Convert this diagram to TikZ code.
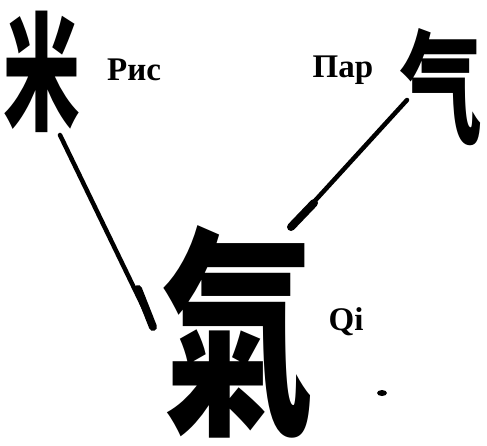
\documentclass[tikz,border=0pt]{standalone}
\usepackage{fontspec}
\setmainfont{Liberation Serif}
\newfontfamily\cjk{Noto Sans CJK SC}
\begin{document}
\begin{tikzpicture}[x=1pt,y=-1pt,
  glyph/.style={inner sep=0pt, font=\cjk\bfseries},
  label/.style={inner sep=0pt, font=\fontsize{33}{36}\selectfont\bfseries},
  brush/.style={line width=4.5pt, line cap=round, black},
  brushtip/.style={line width=8pt, line cap=round, black}]
\useasboundingbox (0,0) rectangle (487,445);
% characters
\node[glyph] (mi) at (42,72) {\fontsize{128}{130}\selectfont\scalebox{0.6}[1]{米}};
\node[glyph] (qisteam) at (441,87) {\fontsize{124}{130}\selectfont\scalebox{0.66}[1]{气}};
\node[glyph] (qibig) at (238,332) {\fontsize{225}{230}\selectfont\scalebox{0.68}[1]{氣}};
% labels
\node[label] (ris) at (134,70) {Рис};
\node[label] (par) at (343,70) {Пар};
\node[label] (qilab) at (346,322) {Qi};
% connector end points
\coordinate (a1) at (60,135);
\coordinate (a2) at (138,289);
\coordinate (a3) at (153,327);
\coordinate (b1) at (407,100);
\coordinate (b2) at (314,203);
\coordinate (b3) at (291,227);
\draw[brush] (a1) -- (a3);
\draw[brushtip] (a2) -- (a3);
\draw[brush] (b1) -- (b3);
\draw[brushtip] (b2) -- (b3);
% small speck
\fill (382,393) ellipse (5pt and 3pt);
\end{tikzpicture}
\end{document}
